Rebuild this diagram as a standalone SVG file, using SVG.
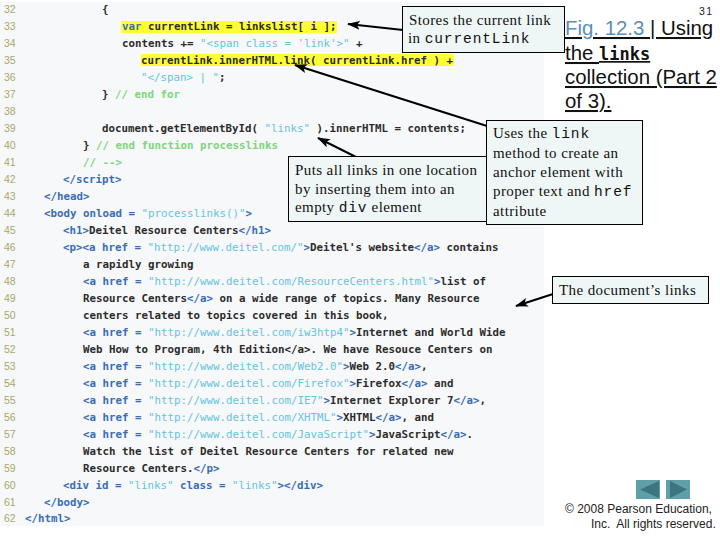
<svg xmlns="http://www.w3.org/2000/svg" width="720" height="540" viewBox="0 0 720 540">
<style>
text{white-space:pre}
.n{font:10.5px "Liberation Sans",sans-serif;fill:#a8a86a}
.c{font:bold 10.8px "DejaVu Sans Mono",monospace;fill:#2c2c2c}
.b{fill:#3a6cb8}
.s{fill:#66c4e0;font-weight:normal}
.g{fill:#7cd67c}
.box{fill:#eff6f6;stroke:#000;stroke-width:1}
.t{font:15px "Liberation Serif",serif;fill:#111;letter-spacing:.4px}
.m{font:14.5px "Liberation Mono",monospace;letter-spacing:.9px}
.h{font:20.4px "Liberation Sans",sans-serif;fill:#111;text-decoration:underline}
.ar{stroke:#000;stroke-width:2;fill:none;marker-end:url(#a)}
.nav{fill:#5f9fa8}
.tri{fill:#3c7480}
</style>
<defs><marker id="a" markerUnits="userSpaceOnUse" markerWidth="13" markerHeight="9" refX="12" refY="4.500" orient="auto"><path d="M0 0L13 4.500L0 9L3 4.500Z" fill="#000"/></marker></defs>
<rect width="720" height="540" fill="#fff"/>
<g id="code">
<rect x="0" y="2" width="544" height="524" fill="#f7f8f9"/>
<rect x="121" y="21" width="216" height="12" fill="#ffff33"/>
<rect x="141" y="54" width="313" height="12" fill="#ffff33"/>
<g class="lines" transform="translate(0,-0.5)">
<text class="n" x="4" y="13">32</text><text class="c" x="102" y="13">{</text>
<text class="n" x="4" y="30">33</text><text class="c" x="122" y="30"><tspan class="b">var</tspan> currentLink = linkslist[ i ];</text>
<text class="n" x="4" y="47">34</text><text class="c" x="122" y="47">contents += <tspan class="s">"&lt;span class = 'link'&gt;"</tspan> +</text>
<text class="n" x="4" y="64">35</text><text class="c" x="141" y="64">currentLink.innerHTML.link( currentLink.href ) +</text>
<text class="n" x="4" y="81">36</text><text class="c" x="141" y="81"><tspan class="s">"&lt;/span&gt; | "</tspan>;</text>
<text class="n" x="4" y="98">37</text><text class="c" x="102" y="98">} <tspan class="g">// end for</tspan></text>
<text class="n" x="4" y="115">38</text>
<text class="n" x="4" y="132">39</text><text class="c" x="102" y="132">document.getElementById( <tspan class="s">"links"</tspan> ).innerHTML = contents;</text>
<text class="n" x="4" y="149">40</text><text class="c" x="83" y="149">} <tspan class="g">// end function processlinks</tspan></text>
<text class="n" x="4" y="166">41</text><text class="c g" x="83" y="166">// --&gt;</text>
<text class="n" x="4" y="183">42</text><text class="c b" x="63" y="183">&lt;/script&gt;</text>
<text class="n" x="4" y="200">43</text><text class="c b" x="44" y="200">&lt;/head&gt;</text>
<text class="n" x="4" y="217">44</text><text class="c b" x="44" y="217">&lt;body onload = <tspan class="s">"processlinks()"</tspan>&gt;</text>
<text class="n" x="4" y="234">45</text><text class="c" x="63" y="234"><tspan class="b">&lt;h1&gt;</tspan>Deitel Resource Centers<tspan class="b">&lt;/h1&gt;</tspan></text>
<text class="n" x="4" y="251">46</text><text class="c" x="63" y="251"><tspan class="b">&lt;p&gt;&lt;a href = </tspan><tspan class="s">"http://www.deitel.com/"</tspan><tspan class="b">&gt;</tspan>Deitel's website<tspan class="b">&lt;/a&gt;</tspan> contains</text>
<text class="n" x="4" y="268">47</text><text class="c" x="83" y="268">a rapidly growing</text>
<text class="n" x="4" y="285">48</text><text class="c" x="83" y="285"><tspan class="b">&lt;a href = </tspan><tspan class="s">"http://www.deitel.com/ResourceCenters.html"</tspan><tspan class="b">&gt;</tspan>list of</text>
<text class="n" x="4" y="302">49</text><text class="c" x="83" y="302">Resource Centers<tspan class="b">&lt;/a&gt;</tspan> on a wide range of topics. Many Resource</text>
<text class="n" x="4" y="319">50</text><text class="c" x="83" y="319">centers related to topics covered in this book,</text>
<text class="n" x="4" y="336">51</text><text class="c" x="83" y="336"><tspan class="b">&lt;a href = </tspan><tspan class="s">"http://www.deitel.com/iw3htp4"</tspan><tspan class="b">&gt;</tspan>Internet and World Wide</text>
<text class="n" x="4" y="353">52</text><text class="c" x="83" y="353">Web How to Program, 4th Edition&lt;/a&gt;. We have Resouce Centers on</text>
<text class="n" x="4" y="370">53</text><text class="c" x="83" y="370"><tspan class="b">&lt;a href = </tspan><tspan class="s">"http://www.deitel.com/Web2.0"</tspan><tspan class="b">&gt;</tspan>Web 2.0<tspan class="b">&lt;/a&gt;</tspan>,</text>
<text class="n" x="4" y="387">54</text><text class="c" x="83" y="387"><tspan class="b">&lt;a href = </tspan><tspan class="s">"http://www.deitel.com/Firefox"</tspan><tspan class="b">&gt;</tspan>Firefox<tspan class="b">&lt;/a&gt;</tspan> and</text>
<text class="n" x="4" y="404">55</text><text class="c" x="83" y="404"><tspan class="b">&lt;a href = </tspan><tspan class="s">"http://www.deitel.com/IE7"</tspan><tspan class="b">&gt;</tspan>Internet Explorer 7<tspan class="b">&lt;/a&gt;</tspan>,</text>
<text class="n" x="4" y="421">56</text><text class="c" x="83" y="421"><tspan class="b">&lt;a href = </tspan><tspan class="s">"http://www.deitel.com/XHTML"</tspan><tspan class="b">&gt;</tspan>XHTML<tspan class="b">&lt;/a&gt;</tspan>, and</text>
<text class="n" x="4" y="438">57</text><text class="c" x="83" y="438"><tspan class="b">&lt;a href = </tspan><tspan class="s">"http://www.deitel.com/JavaScript"</tspan><tspan class="b">&gt;</tspan>JavaScript<tspan class="b">&lt;/a&gt;</tspan>.</text>
<text class="n" x="4" y="455">58</text><text class="c" x="83" y="455">Watch the list of Deitel Resource Centers for related new</text>
<text class="n" x="4" y="472">59</text><text class="c" x="83" y="472">Resource Centers.<tspan class="b">&lt;/p&gt;</tspan></text>
<text class="n" x="4" y="489">60</text><text class="c b" x="63" y="489">&lt;div id = <tspan class="s">"links"</tspan> class = <tspan class="s">"links"</tspan>&gt;&lt;/div&gt;</text>
<text class="n" x="4" y="506">61</text><text class="c b" x="44" y="506">&lt;/body&gt;</text>
<text class="n" x="4" y="522.500">62</text><text class="c b" x="25" y="522.500">&lt;/html&gt;</text>
</g>
</g>
<g id="connectors">
<line class="ar" x1="403" y1="30" x2="348" y2="24"/>
<line class="ar" x1="487" y1="126" x2="295" y2="65"/>
<line class="ar" x1="356" y1="157" x2="318" y2="138"/>
<line class="ar" x1="553" y1="294" x2="516" y2="306"/>
</g>
<g id="note-current-link">
<rect class="box" x="402.500" y="6.500" width="162" height="46"/>
<text class="t" x="409" y="25">Stores the current link</text>
<text class="t" x="408" y="43">in <tspan class="m">currentLink</tspan></text>
</g>
<g id="note-puts-links">
<rect class="box" x="288.500" y="156.500" width="198" height="65"/>
<text class="t" x="295" y="175">Puts all links in one location</text>
<text class="t" x="295" y="194">by inserting them into an</text>
<text class="t" x="295" y="212">empty <tspan class="m">div</tspan> element</text>
</g>
<g id="note-link-method">
<rect class="box" x="486.500" y="120.500" width="156" height="104"/>
<text class="t" x="493" y="138">Uses the <tspan class="m">link</tspan></text>
<text class="t" x="493" y="158">method to create an</text>
<text class="t" x="493" y="177">anchor element with</text>
<text class="t" x="493" y="196">proper text and <tspan class="m">href</tspan></text>
<text class="t" x="493" y="216">attribute</text>
</g>
<g id="note-document-links">
<rect class="box" x="552.500" y="276.500" width="156" height="27"/>
<text class="t" x="559" y="295">The document’s links</text>
</g>
<g id="title">
<text x="699" y="15" font-family="Liberation Sans, sans-serif" font-size="10.500" letter-spacing="1.500" fill="#222">31</text>
<text class="h" x="565" y="35"><tspan fill="#5b8fb9">Fig. 12.3 </tspan>| Using</text>
<text class="h" x="565" y="60">the <tspan font-family="DejaVu Sans Mono, monospace" font-weight="bold" font-size="17">links</tspan></text>
<text class="h" x="565" y="84">collection (Part 2</text>
<text class="h" x="565" y="108">of 3).</text>
</g>
<g id="nav-back"><rect class="nav" x="636" y="480" width="24" height="19"/><path class="tri" d="M640 489.500L659 481V498Z"/></g>
<g id="nav-forward"><rect class="nav" x="666" y="480" width="24" height="19"/><path class="tri" d="M687 489.500L670 481V498Z"/></g>
<g id="copyright" font-family="Liberation Sans, sans-serif" font-size="12" fill="#222">
<text x="565" y="513">© 2008 Pearson Education,</text>
<text x="591" y="528">Inc.  All rights reserved.</text>
</g>
</svg>
